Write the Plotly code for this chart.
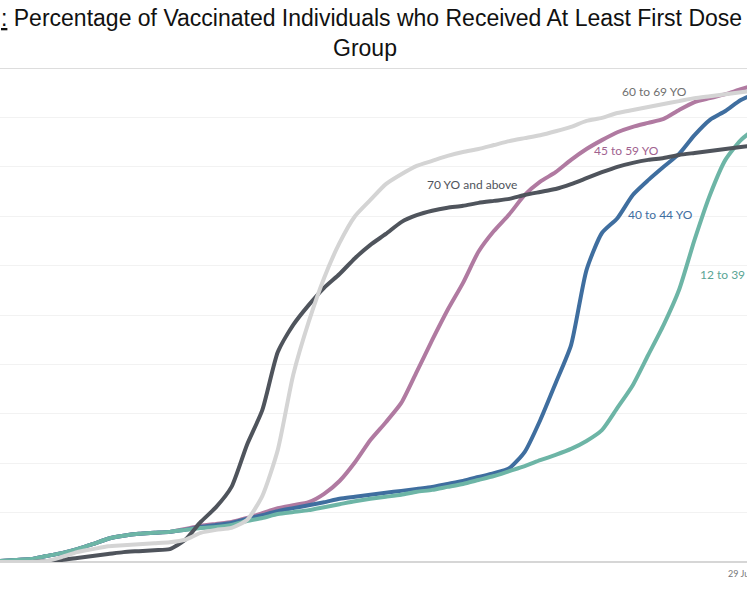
import pandas as pd
import plotly.graph_objects as go

# one reading every 5 days, 1 Nov 2020 -> 4 Jul 2021
dates = pd.date_range("2020-11-01", periods=50, freq="5D")

age_70_plus = [0, 0, 0, 0.2, 0.4, 0.8, 1.2, 1.6, 2.0, 2.2,
               2.4, 2.6, 4.5, 8.1, 11.1, 15.2, 23.7, 30.8, 42.5, 48.0,
               52.0, 55.5, 58.3, 61.5, 64.2, 66.4, 68.8, 70.2, 71.1, 71.7,
               72.1, 72.7, 73.1, 73.5, 74.3, 74.9, 75.5, 76.5, 77.7, 78.9,
               80.0, 80.8, 81.4, 81.8, 82.4, 82.8, 83.2, 83.6, 84.0, 84.4]

age_60_69 = [0, 0, 0, 0.2, 1.0, 2.0, 2.6, 3.2, 3.4, 3.6,
             3.8, 4.0, 4.5, 5.9, 6.5, 6.9, 8.5, 13.4, 22.7, 37.9,
             48.6, 57.5, 64.6, 70.0, 73.3, 76.5, 78.5, 80.2, 81.2, 82.2,
             83.0, 83.6, 84.4, 85.2, 85.8, 86.4, 87.2, 88.1, 89.3, 89.9,
             90.9, 91.5, 92.1, 92.7, 93.3, 93.9, 94.3, 94.7, 95.1, 95.5]

age_45_59 = [0.2, 0.4, 0.6, 1.2, 1.8, 2.6, 3.6, 4.7, 5.3, 5.7,
             5.9, 6.1, 6.7, 7.3, 7.7, 8.1, 8.9, 9.9, 10.9, 11.5,
             12.1, 13.8, 16.4, 20.2, 24.7, 28.3, 32.2, 38.5, 44.9, 51.0,
             56.5, 62.8, 67.0, 70.4, 74.3, 77.0, 78.9, 81.4, 83.6, 85.4,
             87.0, 88.1, 88.9, 89.7, 91.5, 93.1, 93.9, 94.7, 95.7, 96.6]

age_40_44 = [0.2, 0.4, 0.6, 1.2, 1.8, 2.6, 3.6, 4.7, 5.3, 5.7,
             5.9, 6.1, 6.5, 7.1, 7.5, 7.9, 8.7, 9.5, 10.3, 10.9,
             11.5, 12.1, 12.8, 13.2, 13.6, 14.0, 14.4, 14.8, 15.2, 15.8,
             16.4, 17.2, 18.0, 19.0, 22.3, 28.7, 36.2, 43.9, 59.1, 66.6,
             69.6, 74.3, 77.3, 80.0, 82.6, 86.4, 89.5, 91.3, 93.5, 94.9]

age_12_39 = [0.2, 0.4, 0.6, 1.2, 1.8, 2.6, 3.6, 4.7, 5.3, 5.7,
             5.9, 6.1, 6.5, 6.9, 7.1, 7.5, 8.3, 8.9, 9.7, 10.1,
             10.5, 11.1, 11.7, 12.3, 12.8, 13.2, 13.6, 14.2, 14.6, 15.2,
             15.8, 16.6, 17.4, 18.4, 19.4, 20.6, 21.7, 22.9, 24.5, 26.7,
             31.2, 35.8, 41.9, 48.0, 55.1, 65.2, 74.3, 81.4, 85.4, 87.9]

series = [
    ("45 to 59 YO", age_45_59, "#b07aa1"),
    ("40 to 44 YO", age_40_44, "#3f6e9f"),
    ("12 to 39 YO", age_12_39, "#6db5a6"),
    ("70 YO and above", age_70_plus, "#4f545c"),
    ("60 to 69 YO", age_60_69, "#d4d4d4"),
]

# label text, date, value, colour, anchor
labels = [
    ("60 to 69 YO", "2021-06-01", 95.3, "#707070", "center"),
    ("45 to 59 YO", "2021-05-23", 83.4, "#a0628f", "center"),
    ("70 YO and above", "2021-04-03", 76.5, "#4f545c", "center"),
    ("40 to 44 YO", "2021-06-03", 70.4, "#3f6e9f", "center"),
    ("12 to 39 YO", "2021-06-15", 58.1, "#5aa595", "left"),
]

tick_date = "2021-06-29"
tick_text = "29 Jun"

fig = go.Figure()
for name, vals, col in series:
    fig.add_trace(go.Scatter(x=dates, y=vals, name=name, mode="lines",
                             line=dict(color=col, width=4, shape="spline", smoothing=0.6),
                             showlegend=False))

for txt, d, v, col, anc in labels:
    fig.add_annotation(x=d, y=v, text=txt, showarrow=False, xanchor=anc,
                       font=dict(family="Lato", size=12, color=col))

# date label under the axis; it runs off the cropped right edge like the source
fig.add_annotation(x=tick_date, yref="paper", y=0, yshift=-4, yanchor="top",
                   text=tick_text, showarrow=False,
                   font=dict(family="Lato", size=9, color="#777"))

# title (the source image is cropped on both sides)
fig.add_annotation(xref="paper", yref="paper", x=-0.001, y=1, yshift=35,
                   xanchor="left", yanchor="bottom", showarrow=False,
                   text="<u>:</u> Percentage of Vaccinated Individuals who Received At Least First Dose by Age",
                   font=dict(family="Arial, Liberation Sans", size=23, color="#111"))
fig.add_annotation(xref="paper", yref="paper", x=0.489, y=1, yshift=5,
                   xanchor="center", yanchor="bottom", showarrow=False,
                   text="Group",
                   font=dict(family="Arial, Liberation Sans", size=23, color="#111"))

fig.add_shape(type="line", xref="paper", yref="y", x0=0, x1=1, y0=100, y1=100,
              line=dict(color="#dddddd", width=2))

fig.update_layout(width=747, height=598, plot_bgcolor="white", paper_bgcolor="white",
                  margin=dict(l=0, r=0, t=68, b=36))
fig.update_xaxes(range=["2020-11-01", "2021-07-01"], showticklabels=False,
                 showgrid=False, zeroline=False, showline=False, ticks="")
fig.update_yaxes(range=[0, 100], dtick=10, showticklabels=False,
                 gridcolor="#f2f2f2", gridwidth=1,
                 zeroline=True, zerolinecolor="#d6d6d6", zerolinewidth=1.5)

fig.write_html("out.html", config={"displayModeBar": False},
               post_script="document.body.style.margin='0';"
                           "document.body.style.overflow='hidden';")
